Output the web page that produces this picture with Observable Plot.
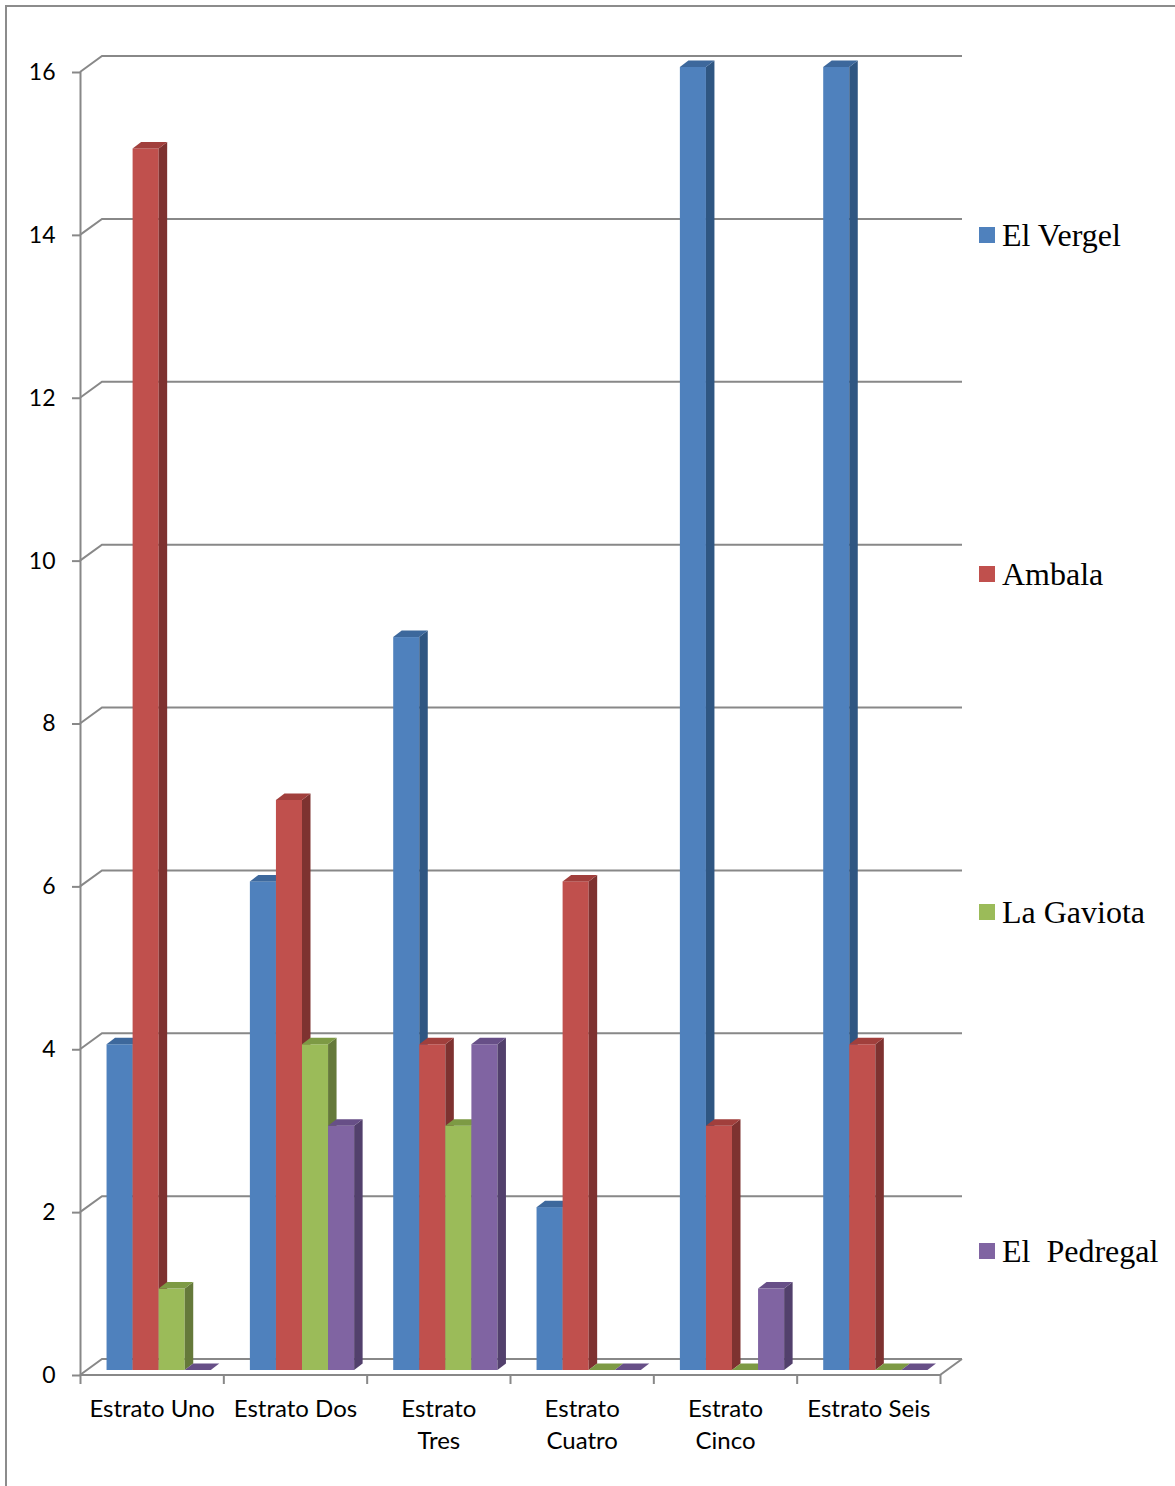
<!DOCTYPE html>
<html><head><meta charset="utf-8">
<script src="https://cdn.jsdelivr.net/npm/d3@7"></script>
<script src="https://cdn.jsdelivr.net/npm/@observablehq/plot@0.6"></script>
<style>
body{margin:0;background:#fff;}
#wrap{position:relative;width:1175px;height:1486px;overflow:hidden;background:#fff;}
#frame{position:absolute;left:5px;top:5px;width:1300px;height:1479px;border-left:2px solid #8c8c8c;border-top:2px solid #8c8c8c;}
#chart{position:absolute;left:0;top:0;}
#legend{position:absolute;left:979px;top:0;font-family:"Liberation Serif","Times New Roman",serif;font-size:32px;color:#000;}
.item{position:absolute;left:0;white-space:pre;display:flex;align-items:center;height:38px;line-height:38px;}
.sw{width:16px;height:16px;margin-right:7px;}
</style></head>
<body>
<div id="wrap"><div id="frame"></div><div id="chart"></div><div id="legend"></div></div>
<script>
// ---- data ----
const categories = ["Estrato Uno", "Estrato Dos", "Estrato Tres", "Estrato Cuatro", "Estrato Cinco", "Estrato Seis"];
const categoryLabels = ["Estrato Uno", "Estrato Dos", "Estrato\nTres", "Estrato\nCuatro", "Estrato\nCinco", "Estrato Seis"];
const series = ["El Vergel", "Ambala", "La Gaviota", "El  Pedregal"];
const elVergel = [4, 6, 9, 2, 16, 16];
const ambala = [15, 7, 4, 6, 3, 4];
const laGaviota = [1, 4, 3, 0, 0, 0];
const elPedregal = [0, 3, 4, 0, 1, 0];
const yTicks = [0, 2, 4, 6, 8, 10, 12, 14, 16];
const legendCenters = [235, 574, 912, 1251];

// ---- styles ----
const frontColors = ["#4F81BD", "#C0504D", "#9BBB59", "#8064A2"];
const sideColors = ["#2F5682", "#7E3230", "#65793A", "#52406C"];
const topColors = ["#3D689C", "#A13F3C", "#7D9A44", "#674F87"];
const gridColor = "#888888";
const WALL_DX = 22, WALL_DY = -16;   // depth of the 3D box
const BAR_DX = 7, BAR_DY = -5;       // placement of bars inside the box
const DEPTH_DX = 8.5, DEPTH_DY = -6.5; // depth of a bar

const values = [elVergel, ambala, laGaviota, elPedregal];
const rows = [];
categories.forEach((c, ci) => series.forEach((s, si) => rows.push({category: c, ci, series: s, si, value: values[si][ci]})));

const gap = 1.5; // gap width 150%
const unit = series.length + gap;

function wallRender(index, scales, vals) {
  const g = d3.create("svg:g").attr("fill", "none").attr("stroke", gridColor).attr("stroke-width", 2);
  const xL = scales.x(0), xR = scales.x(categories.length);
  for (const i of index) {
    const y = vals.y[i];
    let p = `M${xL},${y}L${xL + WALL_DX},${y + WALL_DY}L${xR + WALL_DX},${y + WALL_DY}`;
    if (yTicks[i] === 0) p += `M${xL},${y}L${xR},${y}L${xR + WALL_DX},${y + WALL_DY}`;
    g.append("path").attr("d", p);
  }
  return g.node();
}

function barRender(index, scales, vals) {
  const g = d3.create("svg:g").attr("stroke", "none");
  for (const i of index) {
    const d = rows[i];
    const x1 = vals.x1[i] + BAR_DX, x2 = vals.x2[i] + BAR_DX;
    const yT = vals.y2[i] + BAR_DY, yB = vals.y1[i] + BAR_DY;
    g.append("rect").attr("x", x1).attr("y", yT).attr("width", x2 - x1).attr("height", Math.max(0, yB - yT)).attr("fill", frontColors[d.si]);
    g.append("path").attr("fill", sideColors[d.si])
      .attr("d", `M${x2},${yT}L${x2 + DEPTH_DX},${yT + DEPTH_DY}L${x2 + DEPTH_DX},${yB + DEPTH_DY}L${x2},${yB}Z`);
    g.append("path").attr("fill", topColors[d.si])
      .attr("d", `M${x1},${yT}L${x1 + DEPTH_DX},${yT + DEPTH_DY}L${x2 + DEPTH_DX},${yT + DEPTH_DY}L${x2},${yT}Z`);
  }
  return g.node();
}

const chart = Plot.plot({
  width: 1175,
  height: 1486,
  marginLeft: 80,
  marginRight: 235,
  marginTop: 72,
  marginBottom: 111,
  x: {type: "linear", domain: [0, categories.length]},
  y: {domain: [0, 16]},
  style: {fontFamily: "Lato, 'Open Sans', sans-serif", fontSize: "22px", background: "transparent", color: "#000"},
  marks: [
    Plot.ruleY(yTicks, {y: d => d, render: wallRender}),
    Plot.ruleX([0], {y1: 0, y2: 16, stroke: gridColor, strokeWidth: 2}),
    Plot.axisY({ticks: yTicks, tickSize: 8, tickPadding: 17, stroke: gridColor, strokeWidth: 2, fill: "#000", fontSize: 23, label: null}),
    Plot.axisX({ticks: d3.range(categories.length + 1), tickSize: 9, tickFormat: () => "", stroke: gridColor, strokeWidth: 2, label: null}),
    Plot.rect(rows, {
      x1: d => d.ci + (gap / 2 + d.si) / unit,
      x2: d => d.ci + (gap / 2 + d.si + 1) / unit,
      y1: 0,
      y2: "value",
      render: barRender
    }),
    Plot.text(categoryLabels, {x: (d, i) => i + 0.5, frameAnchor: "bottom", dy: 19, lineAnchor: "top", lineHeight: 1.33, fontSize: 24, fill: "#000"})
  ]
});
document.getElementById("chart").appendChild(chart);

const legend = document.getElementById("legend");
series.forEach((s, i) => {
  const item = document.createElement("div");
  item.className = "item";
  item.style.top = (legendCenters[i] - 19) + "px";
  const sw = document.createElement("span");
  sw.className = "sw";
  sw.style.background = frontColors[i];
  const t = document.createElement("span");
  t.textContent = s;
  item.appendChild(sw);
  item.appendChild(t);
  legend.appendChild(item);
});
</script>
</body></html>
